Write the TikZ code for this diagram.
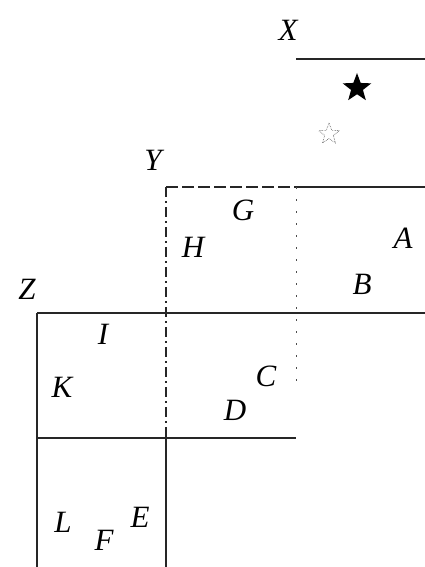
\documentclass[tikz,border=0pt]{standalone}
\usepackage{fontspec}
\setmainfont{Liberation Serif}
\usetikzlibrary{shapes.geometric}
\begin{document}
\begin{tikzpicture}[x=1pt,y=-1pt,
  lbl/.style={font=\fontsize{31}{33}\selectfont\itshape, inner sep=0pt},
  solidln/.style={line width=1.1pt, black!85},
  dashln/.style={line width=1.1pt, black!85, dash pattern=on 12pt off 4pt},
  dotln/.style={line width=1pt, black!70, dash pattern=on 2pt off 10pt}]
\useasboundingbox (0,0) rectangle (425,567);
% coordinates
\coordinate (x0) at (296,59);  \coordinate (x1) at (425,59);
\coordinate (y0) at (166,187); \coordinate (ym) at (296,187); \coordinate (y1) at (425,187);
\coordinate (z0) at (37,313);  \coordinate (zm) at (166,313); \coordinate (z1) at (425,313);
\coordinate (w0) at (37,438);  \coordinate (wm) at (166,438); \coordinate (w1) at (296,438);
\coordinate (b0) at (37,567);  \coordinate (b1) at (166,567);
\coordinate (dm) at (296,388);
% lines
\draw[solidln] (x0) -- (x1);
\draw[dashln] (y0) -- (ym);
\draw[solidln] (ym) -- (y1);
\draw[solidln] (z0) -- (z1);
\draw[solidln] (w0) -- (w1);
\draw[solidln] (z0) -- (b0);
\draw[dashln, dash pattern=on 10pt off 4pt on 2pt off 4pt] (y0) -- (wm);
\draw[solidln] (wm) -- (b1);
\draw[dotln] (ym) -- (dm);
% stars
\node[star, star points=5, star point ratio=2.4, fill=black, minimum size=30pt, inner sep=0pt] (s1) at (357,88) {};
\node[star, star points=5, star point ratio=2.4, draw=black!70, densely dotted, line width=0.6pt, minimum size=22pt, inner sep=0pt] (s2) at (329,134) {};
% labels
\node[lbl] (X) at (288,30) {X};
\node[lbl] (Y) at (153,160) {Y};
\node[lbl] (Z) at (27,289) {Z};
\node[lbl] (G) at (243,210) {G};
\node[lbl] (H) at (193,247) {H};
\node[lbl] (A) at (403,238) {A};
\node[lbl] (B) at (362,284) {B};
\node[lbl] (I) at (103,334) {I};
\node[lbl] (K) at (62,387) {K};
\node[lbl] (C) at (266,376) {C};
\node[lbl] (D) at (235,410) {D};
\node[lbl] (L) at (63,522) {L};
\node[lbl] (E) at (140,517) {E};
\node[lbl] (F) at (104,540) {F};
\end{tikzpicture}
\end{document}
